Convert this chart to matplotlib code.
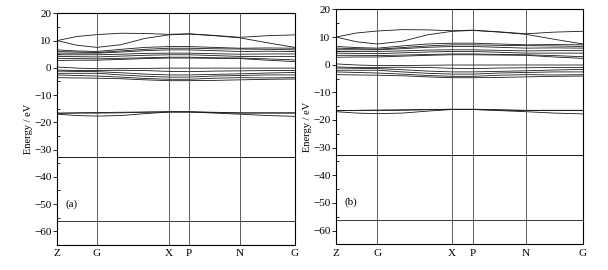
import matplotlib
matplotlib.use("Agg")
import matplotlib.pyplot as plt
from matplotlib.ticker import MultipleLocator
import numpy as np

plt.rcParams['font.family'] = ['Liberation Serif', 'DejaVu Serif']

# high-symmetry path
kpath_labels = ["Z", "G", "X", "P", "N", "G"]
kpath_pos = [0.0, 0.168, 0.471, 0.555, 0.769, 1.0]

# k samples at which band energies were read
k_samples = [0.0, 0.084, 0.168, 0.269, 0.37, 0.471, 0.555, 0.662, 0.769, 0.885, 1.0]

# conduction bands (eV)
band_c1 = [10.0, 11.5, 12.2, 12.7, 12.6, 12.3, 12.5, 11.9, 11.2, 11.8, 12.1]
band_c2 = [10.0, 8.3, 7.5, 8.5, 10.8, 12.1, 12.4, 11.8, 11.0, 9.2, 7.5]
band_m1 = [6.6, 6.2, 6.0, 6.8, 7.5, 7.8, 7.8, 7.5, 7.2, 7.3, 7.2]
band_m2 = [6.0, 5.8, 5.6, 6.2, 6.8, 7.2, 7.2, 7.0, 6.9, 6.8, 6.6]
band_m3 = [5.4, 5.4, 5.4, 5.8, 6.3, 6.6, 6.6, 6.3, 6.0, 6.1, 6.0]
band_m4 = [4.8, 4.8, 4.8, 5.0, 5.3, 5.4, 5.4, 5.2, 5.0, 5.1, 5.1]
band_m5 = [4.2, 4.1, 4.0, 4.3, 4.6, 4.8, 4.8, 4.5, 4.2, 4.2, 4.2]
band_m6 = [3.4, 3.4, 3.3, 3.5, 3.7, 3.9, 3.9, 3.7, 3.6, 3.3, 2.9]
band_m7 = [2.7, 2.8, 2.8, 3.1, 3.4, 3.6, 3.6, 3.5, 3.4, 2.8, 2.3]
# valence bands
band_v1 = [0.3, -0.1, -0.3, -0.3, -0.2, -0.1, -0.1, -0.1, -0.1, -0.1, -0.1]
band_v2 = [-0.8, -1.0, -1.0, -0.9, -1.0, -1.3, -1.4, -1.2, -1.1, -1.0, -1.0]
band_v3 = [-1.2, -1.3, -1.4, -1.8, -2.3, -2.6, -2.6, -2.4, -2.2, -1.9, -1.7]
band_v4 = [-2.0, -2.0, -2.0, -2.6, -3.1, -3.4, -3.4, -3.0, -2.8, -2.6, -2.6]
band_v5 = [-2.6, -2.8, -3.0, -3.4, -3.9, -4.2, -4.2, -3.8, -3.6, -3.7, -3.6]
band_v6 = [-3.6, -3.7, -3.8, -4.0, -4.4, -4.7, -4.7, -4.6, -4.4, -4.2, -4.1]
# semicore bands
band_s1 = [-16.7, -16.5, -16.4, -16.3, -16.2, -16.1, -16.1, -16.3, -16.5, -16.5, -16.5]
band_s2 = [-17.0, -17.5, -17.7, -17.5, -16.8, -16.2, -16.2, -16.6, -17.0, -17.5, -17.8]
band_s3 = [-16.6, -16.6, -16.6, -16.5, -16.3, -16.2, -16.2, -16.4, -16.6, -16.6, -16.6]
# core levels
band_k1 = [-32.6] * len(k_samples)
band_k2 = [-32.8] * len(k_samples)
band_d1 = [-56.3] * len(k_samples)

bands = [band_c1, band_c2, band_m1, band_m2, band_m3, band_m4, band_m5, band_m6, band_m7,
         band_v1, band_v2, band_v3, band_v4, band_v5, band_v6,
         band_s1, band_s2, band_s3, band_k1, band_k2, band_d1]

panel_labels = ["(a)", "(b)"]
ylim = (-65, 20)

fig = plt.figure(figsize=(6.08, 2.70), dpi=100)
rects = [[0.0938, 0.0926, 0.391, 0.858], [0.5526, 0.095, 0.406, 0.870]]

for rect, plab in zip(rects, panel_labels):
    ax = fig.add_axes(rect)
    for b in bands:
        ax.plot(k_samples, b, color='#1a1a1a', lw=0.6)
    for xp in kpath_pos[1:-1]:
        ax.axvline(xp, color='#444444', lw=0.6)
    ax.set_xlim(kpath_pos[0], kpath_pos[-1])
    ax.set_ylim(*ylim)
    ax.set_xticks(kpath_pos)
    ax.set_xticklabels(kpath_labels, fontsize=8)
    ax.tick_params(axis='x', length=0, pad=3)
    ax.yaxis.set_major_locator(MultipleLocator(10))
    ax.yaxis.set_minor_locator(MultipleLocator(5))
    ax.tick_params(axis='y', which='major', direction='out', length=3, width=0.6, labelsize=8, pad=1)
    ax.tick_params(axis='y', which='minor', direction='in', length=2, width=0.6)
    ax.set_ylabel("Energy / eV", fontsize=7.5, labelpad=1)
    for sp in ax.spines.values():
        sp.set_linewidth(0.8)
    ax.text(0.035, 0.178, plab, transform=ax.transAxes, fontsize=8, ha='left', va='center')

fig.savefig("out.png", dpi=100)
